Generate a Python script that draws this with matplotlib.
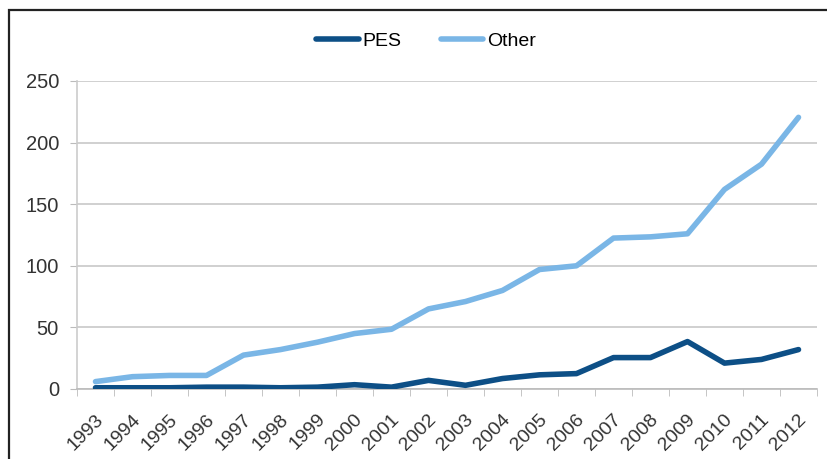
import matplotlib
matplotlib.use("Agg")
import matplotlib.pyplot as plt
from matplotlib.patches import Rectangle
from matplotlib.transforms import ScaledTranslation
import numpy as np

years = [str(y) for y in range(1993, 2013)]
pes = [1, 1, 1, 1.5, 1.5, 1, 1.5, 3.5, 1.5, 7, 3, 8.5, 11.5, 12.5, 25.5, 25.5, 38.5, 21, 24, 32]
other = [6, 10, 11, 11, 27.5, 32, 38, 45, 48.5, 65, 71, 80, 97, 100, 122.5, 123.5, 126, 162, 182.5, 220.5]
y_ticks = [0, 50, 100, 150, 200, 250]

plt.rcParams['font.family'] = ['Liberation Sans', 'DejaVu Sans']

W, H = 827, 459
fig = plt.figure(figsize=(W / 100, H / 100), dpi=100)
fig.patch.set_facecolor('white')

# outer frame (extends past right/bottom edges)
fig.patches.append(Rectangle((9 / W, -0.1), 1.2, 1 - 10 / H + 0.1, transform=fig.transFigure,
                             fill=False, edgecolor='#222222', linewidth=1.6))

ax = fig.add_axes([77 / W, 1 - 389 / H, (817 - 77) / W, (389 - 81) / H])
x = np.arange(len(years))
ax.plot(x, other, color='#7ab6e6', lw=4.0, solid_joinstyle='round', solid_capstyle='round', label='Other', zorder=3)
ax.plot(x, pes, color='#0d4f86', lw=4.0, solid_joinstyle='round', solid_capstyle='round', label='PES', zorder=4)

ax.set_xlim(-0.5, len(years) - 0.5)
ax.set_ylim(0, 250)
ax.set_yticks(y_ticks)
ax.set_yticklabels([str(v) for v in y_ticks], fontsize=14.5, color='#333333')
ax.tick_params(axis='y', length=5, color='#bbbbbb', pad=8)
ax.grid(axis='y', color='#c8c8c8', lw=1.2)
ax.set_axisbelow(True)

ax.set_xticks(x)
ax.set_xticklabels(years, rotation=45, ha='right', va='center', rotation_mode='anchor',
                   fontsize=14, color='#333333')
ax.tick_params(axis='x', length=0, pad=20)
shift = ScaledTranslation(5 / 100, 0, fig.dpi_scale_trans)
for lab in ax.get_xticklabels():
    lab.set_transform(lab.get_transform() + shift)
ax.set_xticks(np.arange(-0.5, len(years), 1), minor=True)
ax.tick_params(axis='x', which='minor', length=5, color='#bbbbbb')

for s in ['top', 'right']:
    ax.spines[s].set_visible(False)
ax.spines['left'].set_color('#cccccc')
ax.spines['left'].set_linewidth(1.2)
ax.spines['bottom'].set_color('#bbbbbb')
ax.spines['bottom'].set_linewidth(1.2)

h, l = ax.get_legend_handles_labels()
fig.legend(h[::-1], l[::-1], loc='center', bbox_to_anchor=(426 / W, 1 - 41 / H), ncol=2, frameon=False,
           fontsize=14, handlelength=2.2, handletextpad=0.2, columnspacing=2.0)

fig.savefig('out.png', dpi=100, facecolor='white')
